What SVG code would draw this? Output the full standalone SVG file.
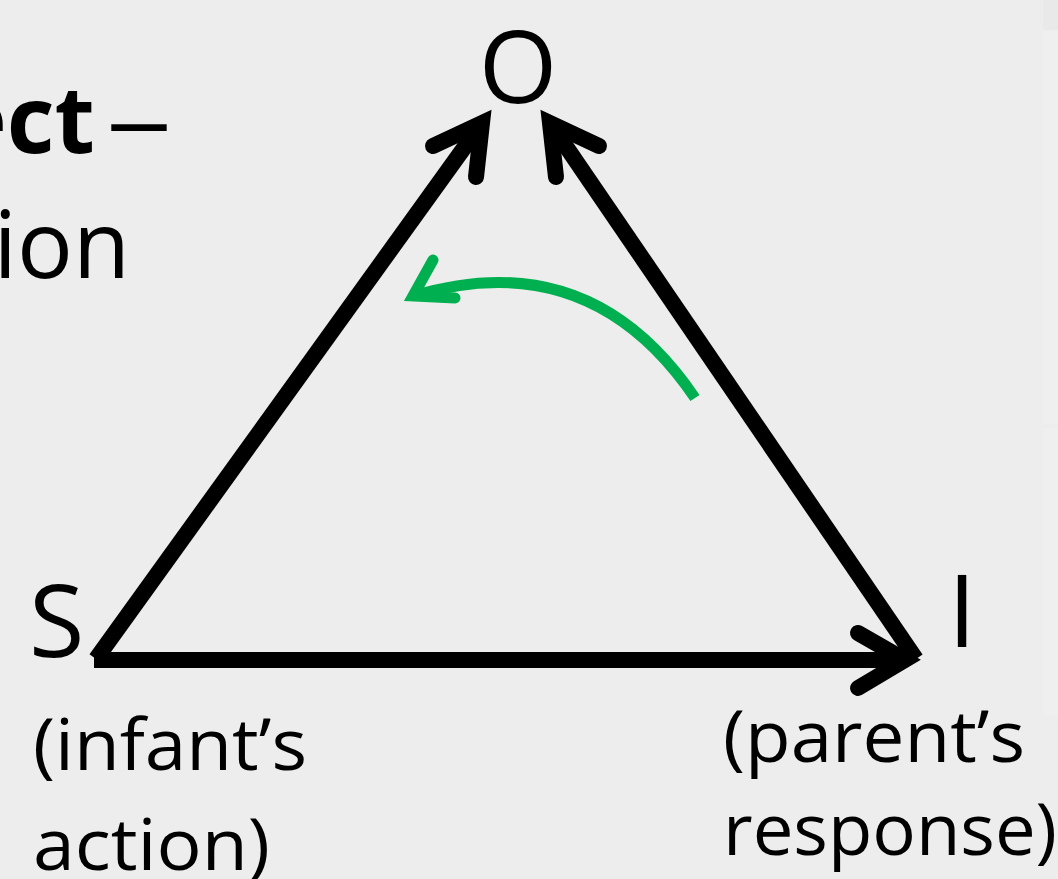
<svg xmlns="http://www.w3.org/2000/svg" width="1058" height="879" viewBox="0 0 1058 879">
  <style>
    .lbl { font-family: "Open Sans", "Noto Sans", "Liberation Sans", sans-serif; fill: #000; }
    .big { font-size: 101px; }
    .mid { font-size: 71px; }
    .ttl { font-size: 93px; }
    .shaft { fill: none; stroke: #000; stroke-width: 16; stroke-linecap: butt; }
    .head { fill: none; stroke: #000; stroke-width: 16; stroke-linecap: round; stroke-linejoin: miter; stroke-miterlimit: 6; }
    .gshaft { fill: none; stroke: #00b050; stroke-width: 11; stroke-linecap: butt; }
    .ghead { fill: none; stroke: #00b050; stroke-width: 11; stroke-linecap: round; stroke-linejoin: miter; stroke-miterlimit: 6; }
  </style>
  <rect x="0" y="0" width="1058" height="879" fill="#ededed"/>
  <g id="edge-panels">
    <rect x="1043" y="0" width="15" height="30" fill="#e9e9e9"/>
    <rect x="1043" y="31" width="15" height="393" fill="#efefef"/>
    <rect x="1043" y="428" width="15" height="287" fill="#efefef"/>
  </g>
  <g id="cropped-text">
    <text class="lbl ttl" x="95" y="153" text-anchor="end" font-weight="bold">ect</text>
    <text class="lbl ttl" x="106" y="153" textLength="66" lengthAdjust="spacingAndGlyphs">–</text>
    <text class="lbl ttl" x="130" y="278" text-anchor="end">ion</text>
  </g>
  <g id="connectors">
    <g id="edge-S-O">
      <line class="shaft" x1="96" y1="659" x2="482" y2="123"/>
      <polyline class="head" points="433,146 482,123 476,177"/>
    </g>
    <g id="edge-I-O">
      <line class="shaft" x1="916" y1="659" x2="550" y2="123"/>
      <polyline class="head" points="599,146 550,123 556,177"/>
    </g>
    <g id="edge-S-I">
      <line class="shaft" x1="94" y1="660" x2="905" y2="660"/>
      <polyline class="head" points="858,633 905,660 858,688"/>
    </g>
    <g id="green-arrow">
      <path class="gshaft" d="M695,398 Q590,243 413,296"/>
      <polyline class="ghead" points="433,260 413,296 455,298"/>
    </g>
  </g>
  <g id="node-O">
    <text class="lbl big" x="518" y="103" text-anchor="middle">O</text>
  </g>
  <g id="node-S">
    <text class="lbl big" x="29" y="657">S</text>
    <text class="lbl mid" x="33" y="770" textLength="274" lengthAdjust="spacingAndGlyphs">(infant’s</text>
    <text class="lbl mid" x="33" y="870" textLength="237" lengthAdjust="spacingAndGlyphs">action)</text>
  </g>
  <g id="node-I">
    <text class="lbl big" x="962" y="647" text-anchor="middle">I</text>
    <text class="lbl mid" x="723" y="762" textLength="302" lengthAdjust="spacingAndGlyphs">(parent’s</text>
    <text class="lbl mid" x="723" y="855" textLength="334" lengthAdjust="spacingAndGlyphs">response)</text>
  </g>
</svg>
